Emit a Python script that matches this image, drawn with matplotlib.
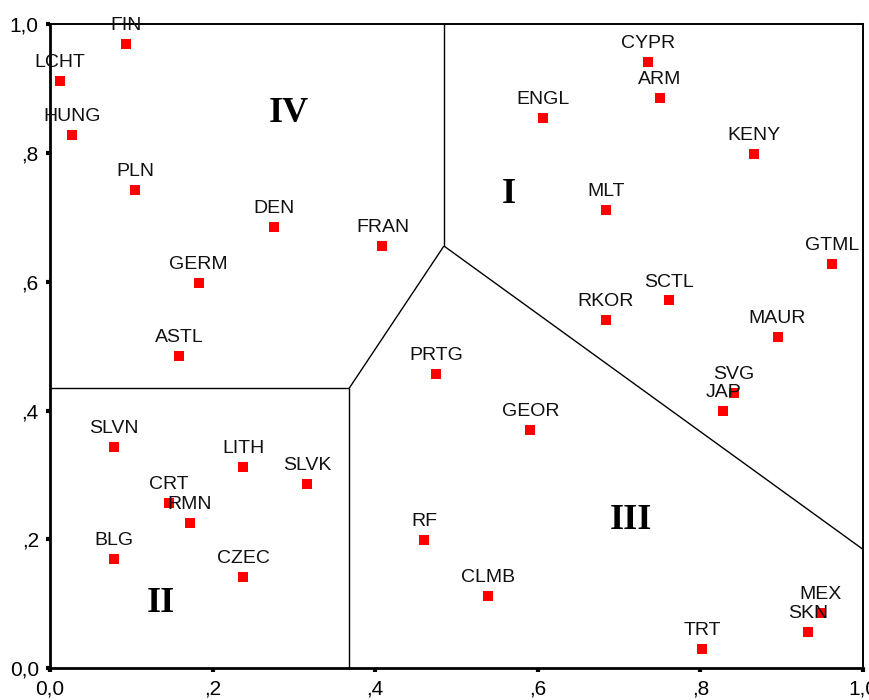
import matplotlib.pyplot as plt
import matplotlib

matplotlib.rcParams['font.family'] = ['Liberation Sans', 'DejaVu Sans']

# country codes and their positions
names = ['FIN', 'LCHT', 'HUNG', 'PLN', 'DEN', 'FRAN', 'GERM', 'ASTL',
         'CYPR', 'ARM', 'ENGL', 'KENY', 'MLT', 'GTML', 'SCTL', 'RKOR',
         'MAUR', 'SVG', 'JAP', 'PRTG', 'GEOR',
         'SLVN', 'LITH', 'SLVK', 'CRT', 'RMN', 'BLG', 'CZEC',
         'RF', 'CLMB', 'TRT', 'SKN', 'MEX']
x = [0.093, 0.012, 0.027, 0.105, 0.276, 0.409, 0.183, 0.159,
     0.736, 0.750, 0.606, 0.866, 0.684, 0.962, 0.762, 0.684,
     0.895, 0.841, 0.828, 0.475, 0.591,
     0.079, 0.238, 0.316, 0.146, 0.172, 0.079, 0.238,
     0.460, 0.539, 0.802, 0.933, 0.948]
y = [0.969, 0.912, 0.828, 0.742, 0.685, 0.656, 0.598, 0.485,
     0.942, 0.885, 0.855, 0.799, 0.712, 0.628, 0.571, 0.541,
     0.514, 0.427, 0.400, 0.457, 0.370,
     0.343, 0.313, 0.286, 0.256, 0.226, 0.169, 0.142,
     0.199, 0.112, 0.029, 0.056, 0.085]

# cluster borders
borders = [
    ([0.0, 0.368], [0.4345, 0.4345]),
    ([0.368, 0.368], [0.0, 0.4345]),
    ([0.368, 0.4846], [0.4345, 0.6556]),
    ([0.4846, 0.4846], [0.6556, 1.0]),
    ([0.4846, 1.0], [0.6556, 0.1844]),
]
regions = ['I', 'II', 'III', 'IV']
region_x = [0.564, 0.1365, 0.7146, 0.2943]
region_y = [0.735, 0.1005, 0.2284, 0.8617]

ticks = [0.0, 0.2, 0.4, 0.6, 0.8, 1.0]
tick_labels = ['0,0', ',2', ',4', ',6', ',8', '1,0']

fig = plt.figure(figsize=(8.69, 7.0), dpi=100)
ax = fig.add_axes([0.0575, 0.0457, 0.9355, 0.9196])

for bx, by in borders:
    ax.plot(bx, by, color='black', lw=1.0, solid_capstyle='butt')

ax.scatter(x, y, s=42, marker='s', color='#ff0000', linewidths=0, zorder=3)

for n, xi, yi in zip(names, x, y):
    ax.annotate(n, (xi, yi), xytext=(0, 10), textcoords='offset points',
                ha='center', va='baseline', fontsize=14, color='#111111')

for r, rx, ry in zip(regions, region_x, region_y):
    ax.text(rx, ry, r, ha='center', va='center', fontsize=26,
            fontweight='bold', family=['Liberation Serif', 'DejaVu Serif'])

ax.set_xlim(0, 1)
ax.set_ylim(0, 1)
ax.set_xticks(ticks)
ax.set_xticklabels(tick_labels)
ax.set_yticks(ticks)
ax.set_yticklabels(tick_labels)
ax.tick_params(direction='out', length=3, width=3, labelsize=15, pad=5)

ax.spines['left'].set_linewidth(2.0)
ax.spines['bottom'].set_linewidth(2.0)
ax.spines['top'].set_linewidth(1.4)
ax.spines['right'].set_linewidth(1.4)

plt.savefig('out.png', dpi=100)
